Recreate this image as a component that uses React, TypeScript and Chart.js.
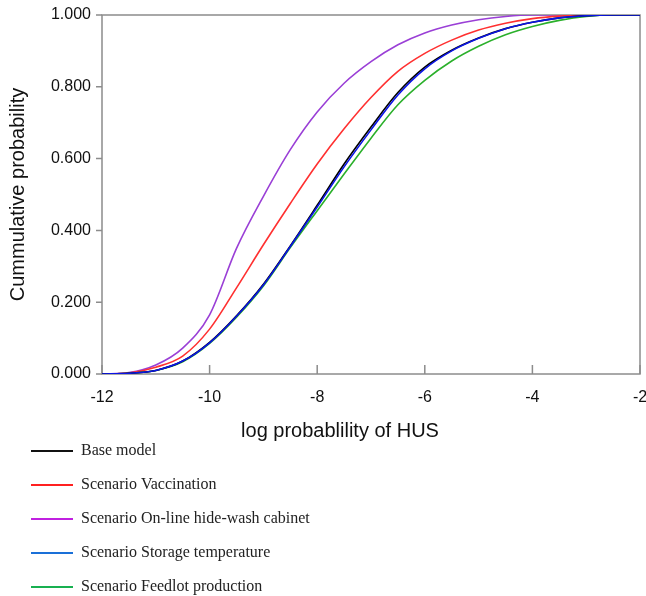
import React, { useEffect, useRef } from "react";
import { Chart, registerables } from "chart.js";

Chart.register(...registerables);

const xValues = [-12, -11.5, -11, -10.5, -10, -9.5, -9, -8.5, -8, -7.5, -7, -6.5, -6, -5.5, -5, -4.5, -4, -3.5, -3, -2.5, -2];

const baseModel = [0, 0.002, 0.01, 0.036, 0.088, 0.162, 0.25, 0.357, 0.47, 0.585, 0.688, 0.784, 0.855, 0.902, 0.936, 0.962, 0.98, 0.992, 0.998, 1, 1];
const vaccination = [0, 0.003, 0.019, 0.05, 0.125, 0.24, 0.36, 0.475, 0.585, 0.683, 0.77, 0.843, 0.893, 0.93, 0.958, 0.977, 0.99, 0.997, 1, 1, 1];
const hideWash = [0, 0.004, 0.025, 0.072, 0.165, 0.35, 0.495, 0.625, 0.73, 0.81, 0.87, 0.917, 0.95, 0.972, 0.987, 0.996, 1, 1, 1, 1, 1];
const storageTemp = [0, 0.002, 0.01, 0.036, 0.087, 0.161, 0.248, 0.355, 0.465, 0.577, 0.68, 0.777, 0.85, 0.9, 0.935, 0.962, 0.98, 0.992, 0.998, 1, 1];
const feedlot = [0, 0.002, 0.01, 0.034, 0.085, 0.158, 0.245, 0.352, 0.455, 0.557, 0.657, 0.75, 0.818, 0.872, 0.913, 0.945, 0.968, 0.985, 0.996, 1, 1];

const seriesNames = [
  "Base model",
  "Scenario Vaccination",
  "Scenario On-line hide-wash cabinet",
  "Scenario Storage temperature",
  "Scenario Feedlot production",
];
const seriesValues = [baseModel, vaccination, hideWash, storageTemp, feedlot];
const lineColors = ["#000000", "#ff3030", "#9a3fd6", "#0a14e6", "#2bb02b"];
const legendColors = ["#111111", "#ff2020", "#c020e0", "#1a70d8", "#18b050"];
const drawOrder = [1, 3, 4, 0, 2];

const yTicks = [0, 0.2, 0.4, 0.6, 0.8, 1.0];
const xTicks = [-12, -10, -8, -6, -4, -2];
const xTitle = "log probablility of HUS";
const yTitle = "Cummulative probability";

const SANS = "'Liberation Sans', Arial, sans-serif";
const SERIF = "'Liberation Serif', 'Times New Roman', serif";

const decorPlugin = {
  id: "decor",
  beforeDatasetsDraw(chart: any) {
    const { ctx, chartArea } = chart;
    const { left, right, top, bottom } = chartArea;
    const xs = chart.scales.x;
    const ys = chart.scales.y;
    ctx.save();
    ctx.strokeStyle = "#8c8c8c";
    ctx.lineWidth = 1.5;
    ctx.strokeRect(left, top, right - left, bottom - top);
    ctx.beginPath();
    yTicks.forEach((v) => {
      const y = ys.getPixelForValue(v);
      ctx.moveTo(left - 6, y);
      ctx.lineTo(left, y);
    });
    xTicks.forEach((v) => {
      const x = xs.getPixelForValue(v);
      ctx.moveTo(x, bottom);
      ctx.lineTo(x, bottom - 9);
    });
    ctx.stroke();
    ctx.restore();
  },
  afterDraw(chart: any) {
    const { ctx, chartArea } = chart;
    ctx.save();
    ctx.fillStyle = "#111";
    ctx.font = `20px ${SANS}`;
    ctx.textAlign = "center";
    ctx.textBaseline = "middle";
    ctx.fillText(xTitle, 340, 431);
    ctx.translate(18, (chartArea.top + chartArea.bottom) / 2);
    ctx.rotate(-Math.PI / 2);
    ctx.fillText(yTitle, 0, 0);
    ctx.restore();

    ctx.save();
    ctx.font = `16px ${SERIF}`;
    ctx.textAlign = "left";
    ctx.textBaseline = "middle";
    seriesNames.forEach((name, i) => {
      const y = 451 + i * 34;
      ctx.strokeStyle = legendColors[i];
      ctx.lineWidth = 2;
      ctx.beginPath();
      ctx.moveTo(31, y);
      ctx.lineTo(73, y);
      ctx.stroke();
      ctx.fillStyle = "#222";
      ctx.fillText(name, 81, y);
    });
    ctx.restore();
  },
};

export default function App() {
  const canvasRef = useRef<HTMLCanvasElement | null>(null);

  useEffect(() => {
    if (!canvasRef.current) return;
    const chart = new Chart(canvasRef.current, {
      type: "line",
      data: {
        datasets: seriesNames.map((name, i) => ({
          label: name,
          data: xValues.map((x, j) => ({ x, y: seriesValues[i][j] })),
          borderColor: lineColors[i],
          backgroundColor: lineColors[i],
          borderWidth: 1.6,
          pointRadius: 0,
          cubicInterpolationMode: "monotone" as const,
          fill: false,
          order: drawOrder[i],
        })),
      },
      options: {
        animation: false,
        responsive: true,
        maintainAspectRatio: false,
        layout: { padding: { left: 0, top: 15, right: 6, bottom: 152 } },
        plugins: { legend: { display: false }, tooltip: { enabled: false } },
        scales: {
          x: {
            type: "linear",
            min: -12,
            max: -2,
            grid: { display: false, drawTicks: false },
            border: { display: false },
            ticks: {
              stepSize: 2,
              padding: 14,
              color: "#111",
              font: { family: SANS, size: 16 },
              maxRotation: 0,
            },
            afterFit(scale: any) {
              scale.height = 70;
              scale.paddingLeft = 0;
              scale.paddingRight = 0;
            },
          },
          y: {
            type: "linear",
            min: 0,
            max: 1,
            grid: { display: false, drawTicks: false },
            border: { display: false },
            ticks: {
              stepSize: 0.2,
              padding: 11,
              color: "#111",
              font: { family: SANS, size: 16 },
              callback: (v: any) => Number(v).toFixed(3),
            },
            afterFit(scale: any) {
              scale.width = 102;
              scale.paddingTop = 0;
              scale.paddingBottom = 0;
            },
          },
        },
      },
      plugins: [decorPlugin],
    });
    return () => chart.destroy();
  }, []);

  return (
    <div style={{ position: "absolute", left: 0, top: 0, width: 646, height: 596, background: "#fff" }}>
      <canvas ref={canvasRef} />
    </div>
  );
}
